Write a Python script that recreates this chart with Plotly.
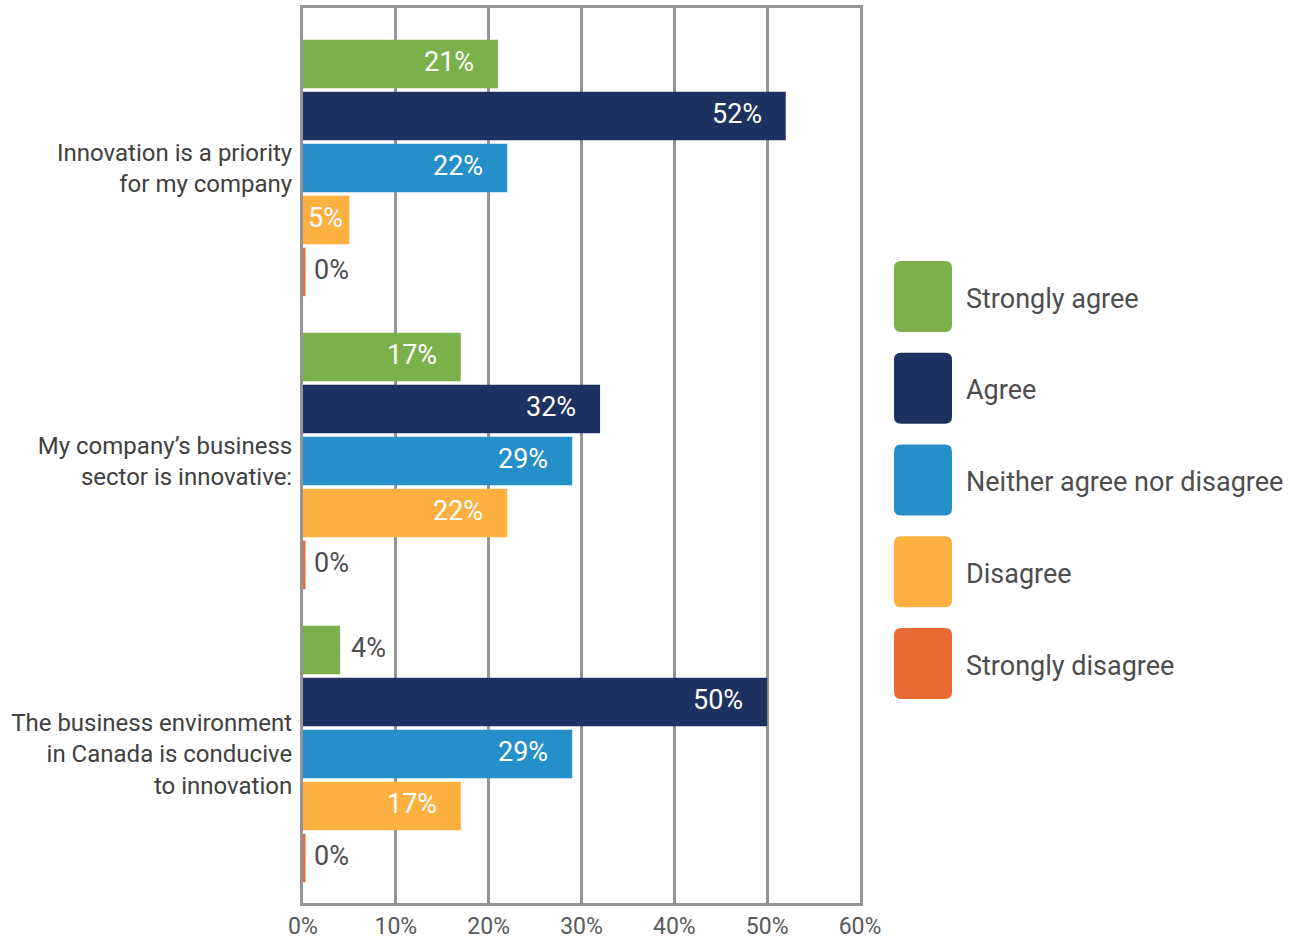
import plotly.graph_objects as go

# Survey statements (y categories) and response series
statements = [
    "Innovation is a priority<br>for my company",
    "My company’s business<br>sector is innovative:",
    "The business environment<br>in Canada is conducive<br>to innovation",
]
responses = ["Strongly agree", "Agree", "Neither agree nor disagree", "Disagree", "Strongly disagree"]
colors = ["#7cb04a", "#1d3260", "#248fc9", "#fbb040", "#e96a32"]

strongly_agree = [21, 17, 4]
agree = [52, 32, 50]
neither = [22, 29, 29]
disagree = [5, 22, 17]
strongly_disagree = [0, 0, 0]
series = [strongly_agree, agree, neither, disagree, strongly_disagree]

x_ticks = [0, 10, 20, 30, 40, 50, 60]
x_tick_labels = [f"{t}%" for t in x_ticks]

FONT = "Roboto, Liberation Sans, sans-serif"
TEXT = "#4d4d4f"
GRID = "#939598"

W, H = 1290, 939
L, R, T, B = 303, 430, 8, 36
BARGAP, BARGROUPGAP = 0.113, 0.067

fig = go.Figure()
for name, vals, col in zip(responses, series, colors):
    fig.add_trace(go.Bar(
        y=statements, x=vals, name=name, orientation="h",
        marker=dict(color=col, line=dict(width=0)),
        showlegend=False, hoverinfo="x+name",
    ))

# value labels placed at the end of each bar
n = len(responses)
group_w = 1 - BARGAP
slot = group_w / n
annotations = []
shapes = []
for i, (vals, col) in enumerate(zip(series, colors)):
    for c, v in enumerate(vals):
        yc = c - group_w / 2 + slot * (i + 0.5)
        if v >= 10:
            anchor, shift, fc = "right", -22, "white"
        elif v >= 5:
            anchor, shift, fc = "right", -4, "white"
        else:
            anchor, shift, fc = "left", 9, TEXT
        annotations.append(dict(
            x=v, y=yc, xref="x", yref="y", text=f"{v}%", showarrow=False,
            xanchor=anchor, yanchor="middle", xshift=shift, yshift=2,
            font=dict(family=FONT, size=27, color=fc),
        ))
        if v == 0:
            # zero-length bars still show as a thin stub on the axis
            half = slot * (1 - BARGROUPGAP) / 2
            shapes.append(dict(
                type="rect", xref="x", yref="y", xsizemode="pixel", xanchor=v,
                x0=-1.5, x1=2.5, y0=yc - half, y1=yc + half,
                fillcolor=col, line=dict(width=0), layer="above",
            ))

# custom legend: rounded swatches with labels to the right
pw, ph = W - L - R, H - T - B


def px_to_paper(px, py):
    return (px - L) / pw, (H - B - py) / ph


def rounded_path(x0, y0, x1, y1, r):
    def p(x, y):
        a, b = px_to_paper(x, y)
        return f"{a:.5f},{b:.5f}"
    return (f"M{p(x0 + r, y0)} L{p(x1 - r, y0)} Q{p(x1, y0)} {p(x1, y0 + r)} "
            f"L{p(x1, y1 - r)} Q{p(x1, y1)} {p(x1 - r, y1)} "
            f"L{p(x0 + r, y1)} Q{p(x0, y1)} {p(x0, y1 - r)} "
            f"L{p(x0, y0 + r)} Q{p(x0, y0)} {p(x0 + r, y0)} Z")


sw_x0, sw_w, sw_h, sw_top, sw_step = 894, 58, 71, 261, 91.75
for i, (name, col) in enumerate(zip(responses, colors)):
    top = sw_top + i * sw_step
    shapes.append(dict(
        type="path", xref="paper", yref="paper",
        path=rounded_path(sw_x0, top, sw_x0 + sw_w, top + sw_h, 7),
        fillcolor=col, line=dict(width=0), layer="above",
    ))
    tx, ty = px_to_paper(964, top + sw_h / 2 + 2)
    annotations.append(dict(
        x=tx, y=ty, xref="paper", yref="paper", text=name, showarrow=False,
        xanchor="left", yanchor="middle",
        font=dict(family=FONT, size=27, color=TEXT),
    ))

fig.update_layout(
    width=W, height=H,
    margin=dict(l=L, r=R, t=T, b=B, pad=0, autoexpand=False),
    paper_bgcolor="white", plot_bgcolor="white",
    barmode="group", bargap=BARGAP, bargroupgap=BARGROUPGAP,
    font=dict(family=FONT, color=TEXT),
    annotations=annotations, shapes=shapes,
    xaxis=dict(
        range=[0, 60], tickvals=x_ticks, ticktext=x_tick_labels,
        showgrid=True, gridcolor=GRID, gridwidth=3,
        showline=True, linecolor=GRID, linewidth=3, mirror=True,
        zeroline=False, ticks="", ticklen=0, ticklabelstandoff=0, automargin=False,
        tickfont=dict(family=FONT, size=23, color="#58595b"),
        fixedrange=True,
    ),
    yaxis=dict(
        type="category", range=[2.5085, -0.546],
        showgrid=False, showline=True, linecolor=GRID, linewidth=3, mirror=True,
        zeroline=False, ticks="", ticklen=0, ticklabelstandoff=3, layer="below traces",
        automargin=False,
        tickfont=dict(family=FONT, size=24, color="#404041"),
        fixedrange=True,
    ),
)

fig.write_html("out.html")
